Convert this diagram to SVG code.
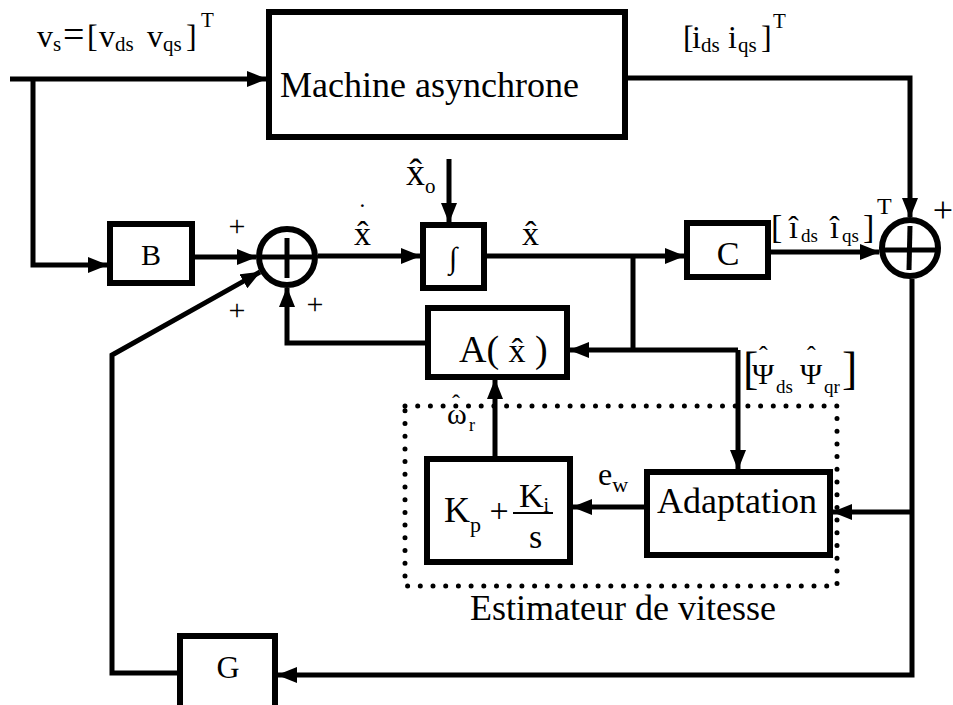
<svg xmlns="http://www.w3.org/2000/svg" width="953" height="705" viewBox="0 0 953 705">
<style>
text{font-family:"Liberation Serif","Times New Roman",serif;fill:#000}
.box{fill:#fff;stroke:#000;stroke-width:6}
.ln{fill:none;stroke:#000;stroke-width:5;stroke-linejoin:miter}
.arr{marker-end:url(#ah)}
.sum{fill:#fff;stroke:#000;stroke-width:6}
.bar{stroke:#000;stroke-width:5}
.dot{fill:none;stroke:#000;stroke-width:5;stroke-linecap:round;stroke-dasharray:0 12.7}
.pl{font-size:30px}
.sb{font-size:21px}
</style>
<defs>
<marker id="ah" viewBox="0 0 20 16" refX="19" refY="8" markerWidth="20" markerHeight="16" markerUnits="userSpaceOnUse" orient="auto">
<path d="M0,0 L20,8 L0,16 Z" fill="#000"/>
</marker>
</defs>
<rect width="953" height="705" fill="#fff"/>

<g id="connectors">
<path class="ln arr" d="M10,79 H266"/>
<path class="ln arr" d="M33,79 V265 H107"/>
<path class="ln arr" d="M195,257 H256"/>
<path class="ln arr" d="M318,256 H420"/>
<path class="ln arr" d="M449,159 V222"/>
<path class="ln arr" d="M487,256 H684"/>
<path class="ln arr" d="M771,252 H879"/>
<path class="ln arr" d="M628,78 H910 V217"/>
<path class="ln arr" d="M912,279 V675 H278"/>
<path class="ln arr" d="M177,673 H112 V355 L260,272"/>
<path class="ln arr" d="M425,343 H287 V288"/>
<path class="ln" d="M633,256 V350"/>
<path class="ln arr" d="M738,350 H570"/>
<path class="ln arr" d="M738,350 V469"/>
<path class="ln arr" d="M644,507 H573"/>
<path class="ln arr" d="M495,456 V380"/>
<path class="ln arr" d="M912,512 H833"/>
</g>

<g id="machine">
<rect class="box" x="269" y="12" width="356" height="125"/>
<text x="280" y="97" font-size="36">Machine asynchrone</text>
</g>

<g id="input-label">
<text y="47" font-size="32"><tspan x="37">v</tspan><tspan class="sb" x="53" dy="4">s</tspan><tspan x="63" dy="-4" font-size="38">=</tspan><tspan x="87">[</tspan><tspan x="99">v</tspan><tspan class="sb" x="115" dy="4">ds</tspan><tspan x="147" dy="-4">v</tspan><tspan class="sb" x="163" dy="4">qs</tspan><tspan x="186" dy="-4">]</tspan><tspan class="sb" x="201" dy="-20">T</tspan></text>
</g>

<g id="output-label">
<text y="48" font-size="32"><tspan x="683">[</tspan><tspan x="692">i</tspan><tspan class="sb" x="701" dy="4">ds</tspan><tspan x="728" dy="-4">i</tspan><tspan class="sb" x="738" dy="4">qs</tspan><tspan x="761" dy="-4">]</tspan><tspan class="sb" x="773" dy="-20">T</tspan></text>
</g>

<g id="B">
<rect class="box" x="110" y="224" width="82" height="59"/>
<text x="151" y="265" font-size="30" text-anchor="middle">B</text>
</g>

<g id="sum1">
<circle class="sum" cx="287" cy="257" r="28"/>
<line class="bar" x1="261" y1="257" x2="313" y2="257"/>
<line class="bar" x1="287" y1="238" x2="287" y2="278"/>
<text class="pl" x="237" y="236" text-anchor="middle">+</text>
<text class="pl" x="237" y="320" text-anchor="middle">+</text>
<text class="pl" x="315" y="314" text-anchor="middle">+</text>
</g>

<g id="xdot-label">
<text x="354" y="245" font-size="34">x̂<tspan dx="-13" dy="-24" font-size="26">˙</tspan></text>
</g>

<g id="integrator">
<rect class="box" x="423" y="225" width="61" height="63"/>
<text x="453" y="268" font-size="30" text-anchor="middle">∫</text>
</g>

<g id="x0-label">
<text x="406" y="185" font-size="38">x̂<tspan class="sb" dy="8">o</tspan></text>
</g>

<g id="xhat-label">
<text x="522" y="245" font-size="34">x̂</text>
</g>

<g id="C">
<rect class="box" x="687" y="223" width="81" height="54"/>
<text x="728" y="265" font-size="34" text-anchor="middle">C</text>
</g>

<g id="ihat-label">
<text y="238" font-size="34"><tspan x="771">[</tspan><tspan x="789" font-size="32">î</tspan><tspan x="801" dy="4" font-size="19">ds</tspan><tspan x="830" dy="-4" font-size="32">î</tspan><tspan x="842" dy="4" font-size="19">qs</tspan><tspan x="863" dy="-4">]</tspan><tspan x="877" dy="-24" font-size="24">T</tspan></text>
</g>

<g id="sum2">
<circle class="sum" cx="910" cy="248" r="28"/>
<line class="bar" x1="884" y1="250" x2="936" y2="250"/>
<line class="bar" x1="910" y1="226" x2="909" y2="270"/>
<text x="943" y="222" font-size="36" text-anchor="middle">+</text>
</g>

<g id="A">
<rect class="box" x="428" y="308" width="139" height="69"/>
<text x="459" y="362" font-size="38">A( <tspan font-size="34">x̂</tspan> )</text>
</g>

<g id="psi-label">
<text y="384" font-size="30"><tspan x="743" font-size="46">[</tspan><tspan x="752">Ψ</tspan><tspan x="759" dy="-20" font-size="26">ˆ</tspan><tspan x="776" dy="29" font-size="19">ds</tspan><tspan x="800" dy="-9">Ψ</tspan><tspan x="807" dy="-20" font-size="26">ˆ</tspan><tspan x="824" dy="29" font-size="19">qr</tspan><tspan x="842" dy="-9" font-size="46">]</tspan></text>
</g>

<g id="estimator">
<rect class="dot" x="405" y="406" width="432" height="180"/>
<text x="470" y="620" font-size="36">Estimateur de vitesse</text>
</g>

<g id="omega-label">
<text x="447" y="424" font-size="30">ω<tspan x="452" dy="-13" font-size="24">ˆ</tspan><tspan x="469" dy="20" font-size="18">r</tspan></text>
</g>

<g id="PI">
<rect class="box" x="427" y="459" width="143" height="103"/>
<text x="444" y="522" font-size="36">K<tspan dy="10" font-size="22">p</tspan><tspan dy="-10" font-size="34"> +</tspan></text>
<line x1="513" y1="513" x2="553" y2="513" stroke="#000" stroke-width="2"/>
<text x="519" y="507" font-size="34">K<tspan dy="5" font-size="20">i</tspan></text>
<text x="529" y="548" font-size="34">s</text>
</g>

<g id="ew-label">
<text x="598" y="485" font-size="32">e<tspan dy="7" font-size="22">w</tspan></text>
</g>

<g id="adaptation">
<rect class="box" x="647" y="472" width="183" height="83"/>
<text x="657" y="513" font-size="36">Adaptation</text>
</g>

<g id="G">
<rect class="box" x="180" y="636" width="95" height="75"/>
<text x="228" y="678" font-size="32" text-anchor="middle">G</text>
</g>
</svg>
